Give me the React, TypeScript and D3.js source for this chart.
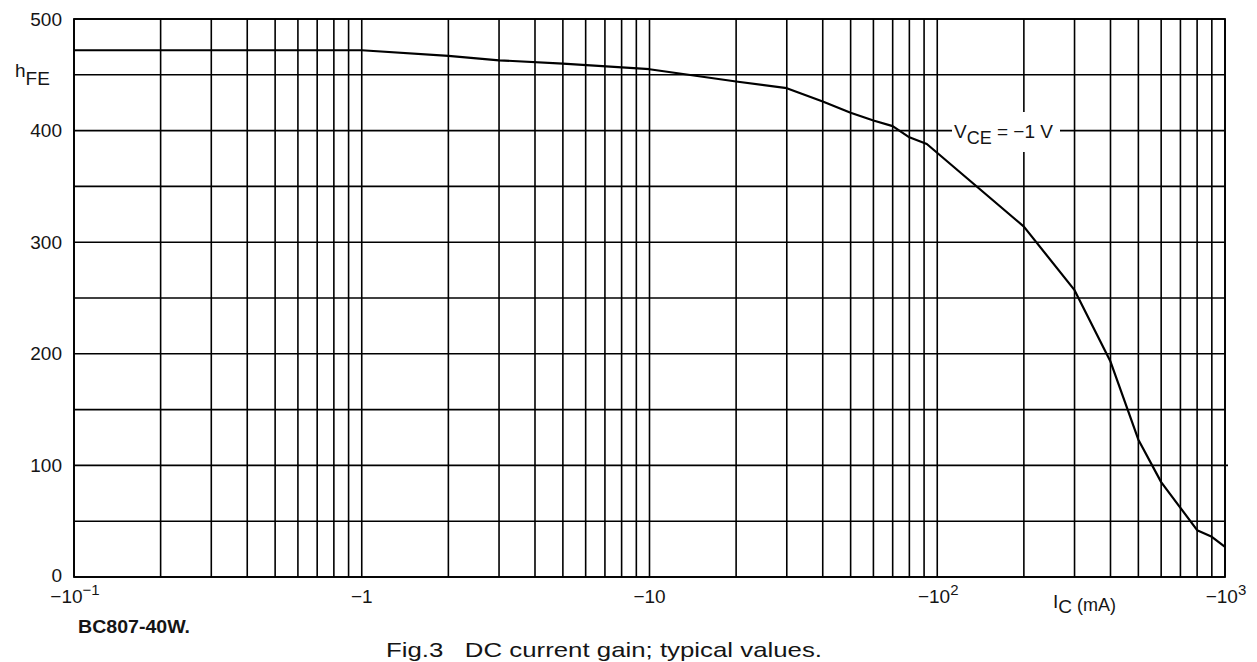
import React from "react";
import * as d3 from "d3";

// Collector current magnitude (mA); axis shows negative values (PNP)
const icMagnitude = [0.1, 1, 2, 3, 5, 10, 20, 30, 40, 50, 60, 70, 80, 92, 200, 300, 400, 500, 600, 700, 800, 900, 1000];
const hfeValues = [472, 472, 467, 463, 460, 455, 444, 438, 426, 416, 409, 404, 394, 388, 314, 257, 193, 123, 85, 62, 42, 36, 27];

const xTickValues = [0.1, 1, 10, 100, 1000];
const xTickBase = ["\u221210", "\u22121", "\u221210", "\u221210", "\u221210"];
const xTickExp = ["\u22121", "", "", "2", "3"];
const yTickValues = [0, 100, 200, 300, 400, 500];

const W = 1257;
const H = 662;
const left = 74;
const right = 1225;
const top = 19;
const bottom = 577;

export default function App() {
  const x = d3.scaleLog().domain([0.1, 1000]).range([left, right]);
  const y = d3.scaleLinear().domain([0, 500]).range([bottom, top]);
  const vGrid = x.ticks(10);
  const hGrid = y.ticks(10);
  const line = d3
    .line<number>()
    .x((_, i) => x(icMagnitude[i]))
    .y((d) => y(d))
    .curve(d3.curveLinear);

  const font = "'Liberation Sans', Arial, Helvetica, sans-serif";
  const ink = "#151515";

  return (
    <svg
      width={W}
      height={H}
      style={{ position: "absolute", left: 0, top: 0, background: "#fff" }}
      fontFamily={font}
    >
      <rect x={0} y={0} width={W} height={H} fill="#fff" />
      {/* vertical grid */}
      {vGrid.map((v, i) => (
        <line key={"v" + i} x1={x(v)} x2={x(v)} y1={top} y2={bottom} stroke="#000" strokeWidth={1.6} />
      ))}
      {/* horizontal grid */}
      {hGrid.map((v, i) => (
        <line key={"h" + i} x1={left} x2={v === 100 ? right + 3 : right} y1={y(v)} y2={y(v)} stroke="#000" strokeWidth={1.6} />
      ))}
      <rect x={left} y={top} width={right - left} height={bottom - top} fill="none" stroke="#000" strokeWidth={1.8} />

      {/* curve label with white background */}
      <rect x={952} y={112} width={108} height={40} fill="#fff" />
      <text x={954} y={138} fontSize={19} fill={ink}>
        V<tspan dy={6} fontSize={18}>CE</tspan>
        <tspan dy={-6}> = {"\u2212"}1 V</tspan>
      </text>

      {/* curve */}
      <path d={line(hfeValues) || ""} fill="none" stroke="#000" strokeWidth={2.2} strokeLinejoin="round" />

      {/* y tick labels */}
      {yTickValues.map((v, i) => (
        <text key={"yt" + i} x={62} y={v === 0 ? 575 : y(v)} dy="0.35em" textAnchor="end" fontSize={19} fill={ink}>
          {v}
        </text>
      ))}
      {/* y axis title */}
      <text x={15} y={77} fontSize={19} fill={ink}>
        h<tspan dy={8}>FE</tspan>
      </text>

      {/* x tick labels */}
      {xTickValues.map((v, i) => (
        <text key={"xt" + i} x={x(v) + (xTickExp[i] ? 1 : 0)} y={603} textAnchor="middle" fontSize={19} fill={ink}>
          {xTickBase[i]}
          {xTickExp[i] ? (
            <tspan dy={-8} fontSize={15}>
              {xTickExp[i]}
            </tspan>
          ) : null}
        </text>
      ))}
      {/* x axis title */}
      <text x={1053} y={608} fontSize={19} fill={ink}>
        I<tspan dy={5}>C</tspan>
        <tspan dy={-2} fontSize={18}> (mA)</tspan>
      </text>

      {/* part number */}
      <text x={78} y={633} fontSize={19} fontWeight="bold" fill={ink} textLength={112} lengthAdjust="spacingAndGlyphs">
        BC807-40W.
      </text>
      {/* caption */}
      <text x={386} y={657} fontSize={21} fill={ink} textLength={436} lengthAdjust="spacingAndGlyphs" style={{ whiteSpace: "pre" }}>
        {"Fig.3   DC current gain; typical values."}
      </text>
    </svg>
  );
}
